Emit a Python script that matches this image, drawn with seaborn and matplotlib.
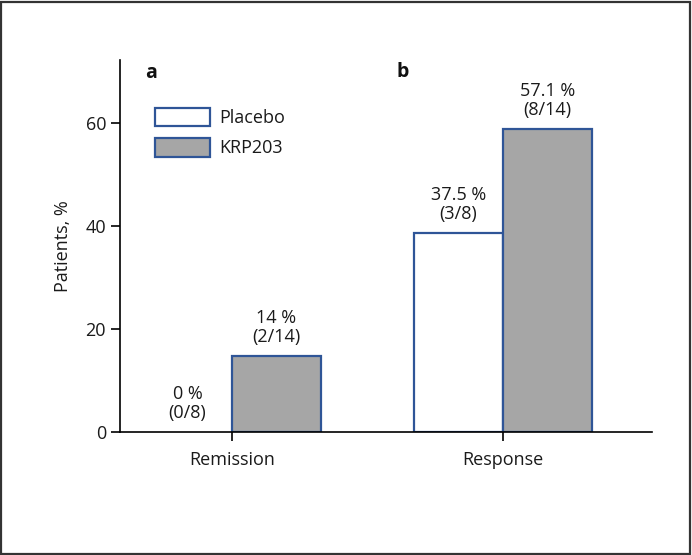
import matplotlib
matplotlib.use("Agg")
import matplotlib.pyplot as plt
import seaborn as sns
import pandas as pd
from matplotlib.patches import Rectangle

categories = ["Remission", "Response"]
groups = ["Placebo", "KRP203"]
placebo_values = [0.0, 38.6]
krp203_values = [14.8, 58.8]
placebo_labels = ["0 %\n(0/8)", "37.5 %\n(3/8)"]
krp203_labels = ["14 %\n(2/14)", "57.1 %\n(8/14)"]
yticks = [0, 20, 40, 60]

df = pd.DataFrame({
    "Outcome": categories * 2,
    "Group": [groups[0]] * 2 + [groups[1]] * 2,
    "Patients": placebo_values + krp203_values,
})

sns.set_theme(style="white")
plt.rcParams["font.family"] = ["Open Sans", "DejaVu Sans"]
FS = 13
plt.rcParams["font.size"] = FS

fig = plt.figure(figsize=(6.92, 5.55), dpi=100)
ax = fig.add_axes([0.1734, 0.2216, 0.942 - 0.1734, 0.892 - 0.2216])

edge = "#2F5597"
sns.barplot(data=df, x="Outcome", y="Patients", hue="Group", order=categories,
            hue_order=groups, palette={"Placebo": "white", "KRP203": "#A6A6A6"},
            edgecolor=edge, linewidth=1.6, width=0.657, ax=ax, legend=True)

# hide zero-height data bars (no visible bar in reference)
for cont in ax.containers:
    for p in cont.patches:
        if abs(p.get_height()) < 1e-9:
            p.set_visible(False)

for cont, labs in zip(ax.containers, [placebo_labels, krp203_labels]):
    ax.bar_label(cont, labels=labs, padding=7, fontsize=FS, color="#1a1a1a",
                 linespacing=1.1)

ax.set_xlim(-0.413, 1.55)
ax.set_ylim(0, 72.2)
ax.set_yticks(yticks)
ax.set_xlabel("")
ax.set_ylabel("Patients, %", fontsize=FS, color="#1a1a1a", labelpad=10)
for s in ["top", "right"]:
    ax.spines[s].set_visible(False)
for s in ["left", "bottom"]:
    ax.spines[s].set_color("black")
    ax.spines[s].set_linewidth(1.2)
ax.tick_params(axis="both", direction="out", length=6.5, width=1.2,
               colors="black", labelsize=FS, labelcolor="#1a1a1a", left=True, bottom=True)
ax.tick_params(axis="x", pad=7)

handles = [Rectangle((0, 0), 1, 1, facecolor=c, edgecolor=edge, linewidth=1.6)
           for c in ["white", "#A6A6A6"]]
leg = ax.legend(handles, groups, loc="upper left", bbox_to_anchor=(0.066, 0.872),
                frameon=False, borderpad=0, borderaxespad=0, handlelength=3.05,
                handleheight=1.2, handletextpad=0.5, labelspacing=0.62, fontsize=FS)
for t in leg.get_texts():
    t.set_color("#1a1a1a")

ax.text(0.047, 0.952, "a", transform=ax.transAxes, fontsize=14, fontweight="bold",
        va="baseline", ha="left", color="#111111")
ax.text(0.5207, 0.954, "b", transform=ax.transAxes, fontsize=14, fontweight="bold",
        va="baseline", ha="left", color="#111111")

fig.patches.append(Rectangle((0.002, 0.002), 0.995, 0.995, transform=fig.transFigure,
                             fill=False, edgecolor="#333333", linewidth=1.6))

fig.savefig("out.png", dpi=100)
